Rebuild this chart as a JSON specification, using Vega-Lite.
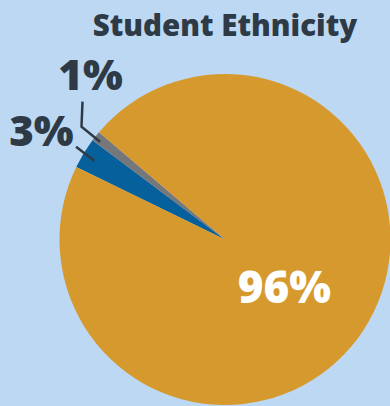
{
  "$schema": "https://vega.github.io/schema/vega-lite/v6.json",
  "width": 390,
  "height": 406,
  "autosize": "none",
  "padding": 0,
  "background": "#BDD8F3",
  "config": {"view": {"stroke": null}},
  "title": {
    "text": "Student Ethnicity",
    "anchor": "middle",
    "dx": 30,
    "offset": -65,
    "baseline": "alphabetic",
    "font": "Open Sans",
    "fontSize": 29.5,
    "fontWeight": 800,
    "color": "#2E3A46"
  },
  "datasets": {
    "ethnicity": [
      {"group": "Group B", "value": 3, "label": "3%", "order": 1},
      {"group": "Group C", "value": 1, "label": "1%", "order": 2},
      {"group": "Group A", "value": 96, "label": "96%", "order": 3}
    ],
    "leaders": [
      {"leader": "1%", "step": 1, "px": -0.861, "py": 0.833},
      {"leader": "1%", "step": 2, "px": -0.867, "py": 0.682},
      {"leader": "1%", "step": 3, "px": -0.755, "py": 0.591},
      {"leader": "3%", "step": 1, "px": -0.900, "py": 0.561},
      {"leader": "3%", "step": 2, "px": -0.790, "py": 0.476}
    ]
  },
  "layer": [
    {
      "data": {"name": "ethnicity"},
      "mark": {"type": "arc", "radius": 165.5},
      "encoding": {
        "x": {"datum": 0, "type": "quantitative", "scale": {"domain": [-1.3595, 0.997], "nice": false, "zero": false}, "axis": null},
        "y": {"datum": 0, "type": "quantitative", "scale": {"domain": [-1.006, 1.4471], "nice": false, "zero": false}, "axis": null},
        "theta": {"field": "value", "type": "quantitative", "stack": true, "scale": {"domain": [0, 100], "range": [-1.117, 5.1662]}},
        "order": {"field": "order", "type": "quantitative"},
        "color": {"field": "group", "type": "nominal", "scale": {"domain": ["Group A", "Group B", "Group C"], "range": ["#D6992D", "#05609C", "#75777A"]}, "legend": null}
      }
    },
    {
      "data": {"name": "ethnicity"},
      "transform": [
        {"stack": "value", "groupby": [], "sort": [{"field": "order", "order": "ascending"}], "as": ["v0", "v1"]},
        {"filter": "datum.label === '96%'"}
      ],
      "mark": {"type": "text", "radius": 71, "thetaOffset": 3.016, "dy": 24.6, "font": "Open Sans", "fontWeight": 800, "fontSize": 44, "fill": "#FFFFFF", "align": "center", "baseline": "alphabetic"},
      "encoding": {
        "x": {"datum": 0, "type": "quantitative"},
        "y": {"datum": 0, "type": "quantitative"},
        "theta": {"field": "v0", "type": "quantitative"},
        "text": {"field": "label"}
      }
    },
    {
      "data": {"name": "ethnicity"},
      "transform": [
        {"stack": "value", "groupby": [], "sort": [{"field": "order", "order": "ascending"}], "as": ["v0", "v1"]},
        {"filter": "datum.label === '1%'"}
      ],
      "mark": {"type": "text", "radius": 200, "thetaOffset": 0.0314, "dx": 21.8, "dy": -24.7, "font": "Open Sans", "fontWeight": 800, "fontSize": 42, "fill": "#2E3A46", "align": "center", "baseline": "alphabetic"},
      "encoding": {
        "x": {"datum": 0, "type": "quantitative"},
        "y": {"datum": 0, "type": "quantitative"},
        "theta": {"field": "v0", "type": "quantitative"},
        "text": {"field": "label"}
      }
    },
    {
      "data": {"name": "ethnicity"},
      "transform": [
        {"stack": "value", "groupby": [], "sort": [{"field": "order", "order": "ascending"}], "as": ["v0", "v1"]},
        {"filter": "datum.label === '3%'"}
      ],
      "mark": {"type": "text", "radius": 200, "thetaOffset": 0.0942, "dx": -12.8, "dy": 10.2, "font": "Open Sans", "fontWeight": 800, "fontSize": 42, "fill": "#2E3A46", "align": "center", "baseline": "alphabetic"},
      "encoding": {
        "x": {"datum": 0, "type": "quantitative"},
        "y": {"datum": 0, "type": "quantitative"},
        "theta": {"field": "v0", "type": "quantitative"},
        "text": {"field": "label"}
      }
    },
    {
      "data": {"name": "leaders"},
      "mark": {"type": "line", "stroke": "#2E3A46", "strokeWidth": 2.5, "strokeCap": "butt"},
      "encoding": {
        "x": {"field": "px", "type": "quantitative"},
        "y": {"field": "py", "type": "quantitative"},
        "detail": {"field": "leader", "type": "nominal"},
        "order": {"field": "step", "type": "quantitative"}
      }
    }
  ]
}
